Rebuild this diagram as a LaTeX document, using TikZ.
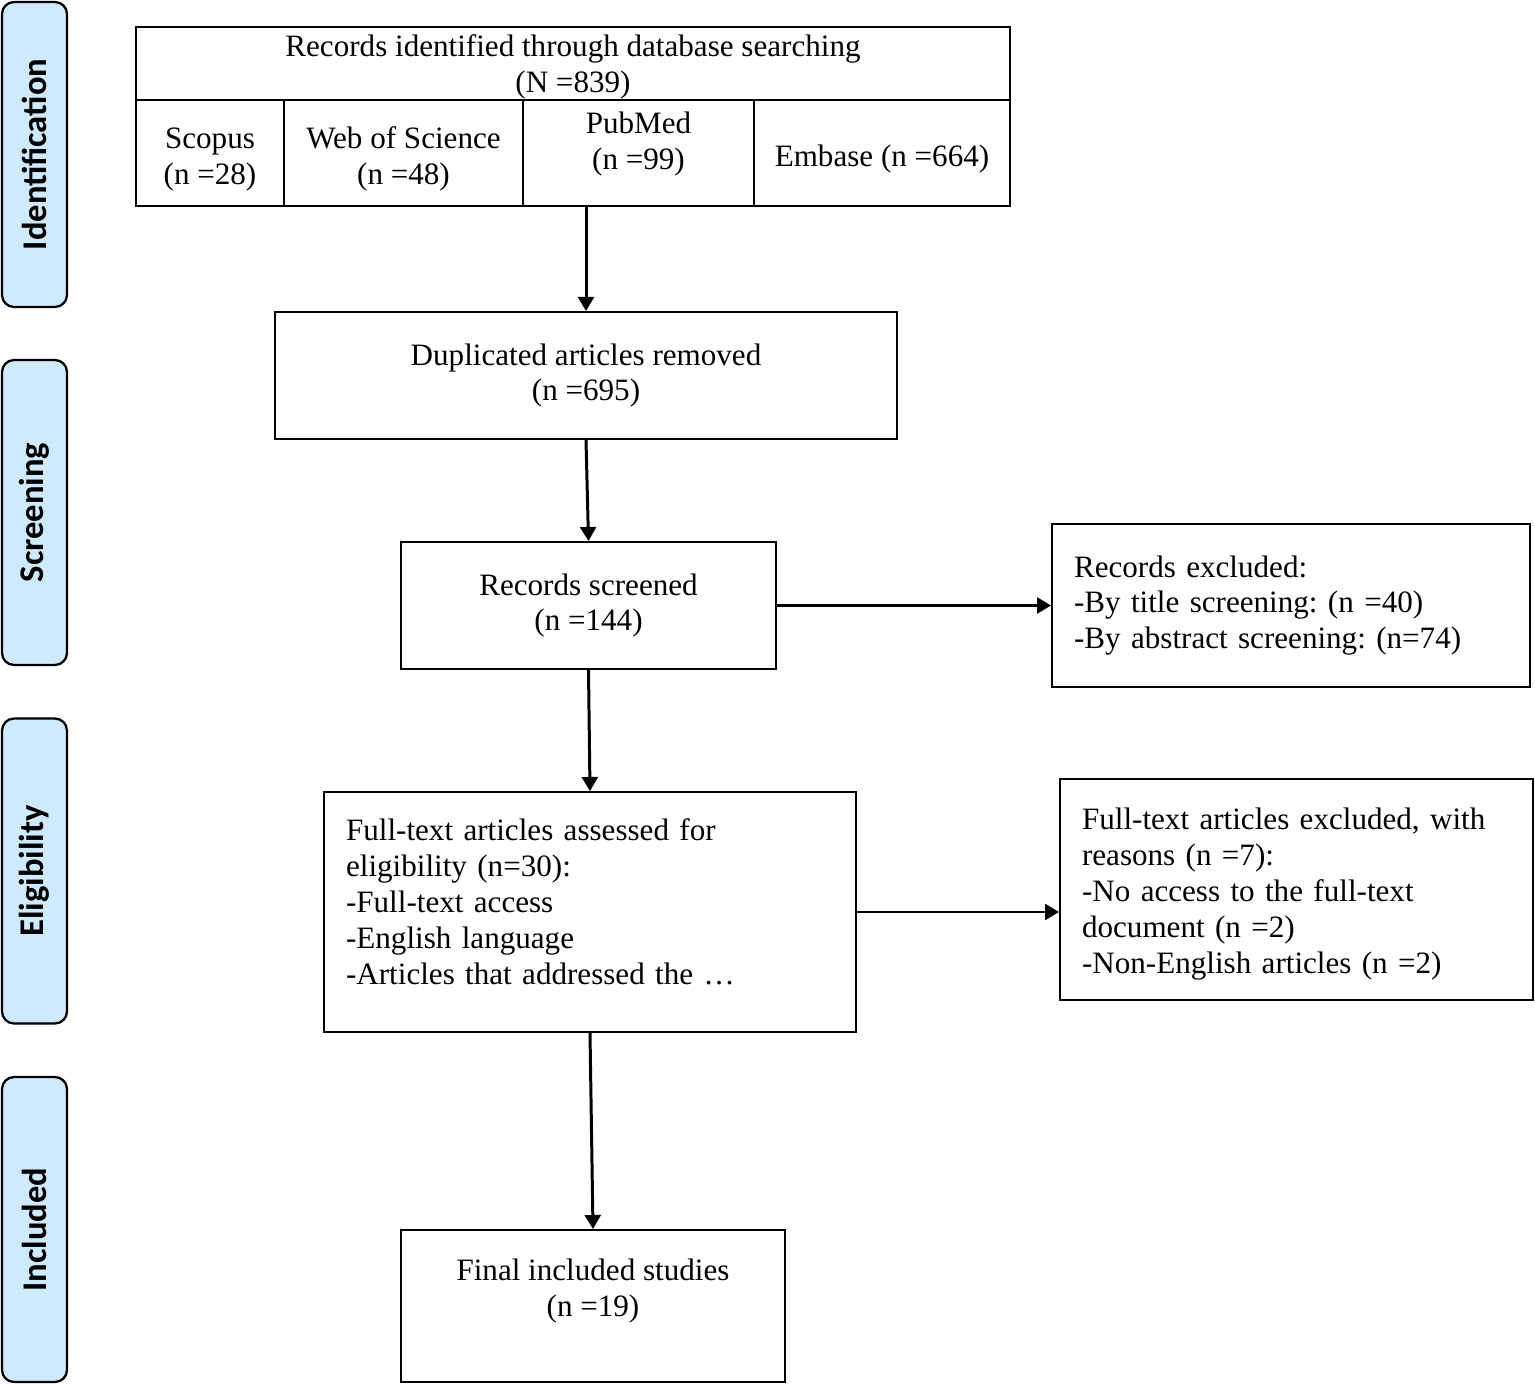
\documentclass[tikz,border=0pt]{standalone}
\usepackage{fontspec}
\setmainfont{Liberation Serif}
\newfontfamily\stagefont{Carlito}
\usetikzlibrary{arrows.meta,shapes}
\definecolor{stageblue}{RGB}{207,233,255}
\frenchspacing
\newcommand{\lift}{\rule{0pt}{0.66cm}}% premiere ligne un peu plus bas
\tikzset{
  box/.style = {draw=black, line width=1.1pt, rectangle, align=center,
    inner sep=0pt, font=\fontsize{17.7}{20.4}\selectfont},% boite centree
  leftbox/.style = {box, align=left, inner xsep=0.44cm},% boite texte a gauche
  stage/.style = {draw=black, line width=1.3pt, fill=stageblue,
    rounded corners=0.24cm, minimum width=1.3cm, minimum height=6.1cm,
    inner sep=0pt},% bandeau de phase
  stagelabel/.style = {rotate=90, font=\stagefont\bfseries\fontsize{19.7}{22}\selectfont}
}
\begin{document}
\begin{tikzpicture}[x=0.02cm, y=-0.02cm, ->, >={Triangle[length=8pt,width=9pt]},
  line width=1.7pt]
\useasboundingbox (0,0) rectangle (1535,1385);
% phases
\node [stage] (ident) at (34.5,154.5) {};
\node [stagelabel] at (ident) {Identification};
\node [stage] (screen) at (34.5,512.5) {};
\node [stagelabel] at (screen) {Screening};
\node [stage] (elig) at (34.5,871) {};
\node [stagelabel] at (elig) {Eligibility};
\node [stage] (incl) at (34.5,1229.5) {};
\node [stagelabel] at (incl) {Included};
% identification
\node [box, minimum width=17.48cm, minimum height=1.46cm] (records) at (573,63.5)
  {\rule{0pt}{0.56cm}Records identified through database searching\\(N =839)};
\node [box, minimum width=2.96cm, minimum height=2.12cm] (scopus) at (210,153)
  {\lift Scopus\\(n =28)};
\node [box, minimum width=4.78cm, minimum height=2.12cm] (wos) at (403.5,153)
  {\lift Web of Science\\(n =48)};
\node [box, minimum width=4.62cm, minimum height=2.12cm] (pubmed) at (638.5,153)
  {\lift PubMed\\(n =99)\\};
\node [box, minimum width=5.12cm, minimum height=2.12cm] (embase) at (882,153)
  {\lift Embase (n =664)};
% screening
\node [box, minimum width=12.44cm, minimum height=2.54cm] (dup) at (586,375.5)
  {Duplicated articles removed\\(n =695)};
\node [box, minimum width=7.5cm, minimum height=2.54cm] (screened) at (588.5,605.5)
  {Records screened\\(n =144)};
\node [leftbox, text width=8.68cm, minimum height=3.26cm] (recexcl) at (1291,605.5)
  {Records excluded:\\-By title screening: (n =40)\\-By abstract screening: (n=74)\\};
% eligibility
\node [leftbox, text width=9.76cm, minimum height=4.8cm] (fulltext) at (590,912)
  {Full-text articles assessed for\\eligibility (n=30):\\-Full-text access\\-English language\\-Articles that addressed the \ldots\rule[-0.42cm]{0pt}{0pt}};
\node [leftbox, text width=8.58cm, minimum height=4.42cm] (ftexcl) at (1296.5,889.5)
  {\rule{0pt}{0.62cm}Full-text articles excluded, with\\reasons (n =7):\\-No access to the full-text\\document (n =2)\\-Non-English articles (n =2)};
% included
\node [box, minimum width=7.68cm, minimum height=3.04cm] (final) at (593,1306)
  {Final included studies\\(n =19)\\};
% arrows
\draw (dup.north |- pubmed.south) -- (dup.north);
\draw (dup.south) -- (screened.north);
\draw (screened.east) -- (recexcl.west);
\draw (screened.south) -- (fulltext.north);
\draw (fulltext.east) -- (fulltext.east -| ftexcl.west);
\draw (fulltext.south) -- (final.north);
\end{tikzpicture}
\end{document}
